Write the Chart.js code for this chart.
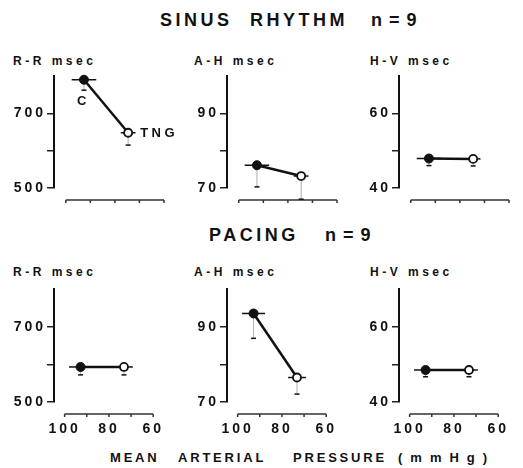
<!DOCTYPE html>
<html><head><meta charset="utf-8">
<script src="https://cdn.jsdelivr.net/npm/chart.js@4/dist/chart.umd.min.js"></script>
<style>
html,body{margin:0;padding:0;background:#fff;}
#wrap{position:relative;width:523px;height:468px;overflow:hidden;font-family:"Liberation Sans",Arial,sans-serif;font-weight:bold;color:#111;}
.t{position:absolute;white-space:nowrap;line-height:1;}
.big{font-size:18px;letter-spacing:3.5px;}
.nn{font-size:18px;letter-spacing:1px;}
.lab{font-size:12px;letter-spacing:3.5px;}
.xt{font-size:13px;letter-spacing:2.8px;}
canvas{position:absolute;}
</style></head><body><div id="wrap">
<div class="t big" style="left:160px;top:11px">SINUS</div>
<div class="t big" style="left:250px;top:11px">RHYTHM</div>
<div class="t nn" style="left:371px;top:11px">n = 9</div>
<div class="t big" style="left:209px;top:226px">PACING</div>
<div class="t nn" style="left:325px;top:226px">n = 9</div>
<div class="t lab" style="left:13px;top:55px">R-R msec</div>
<div class="t lab" style="left:194px;top:55px">A-H msec</div>
<div class="t lab" style="left:370px;top:55px">H-V msec</div>
<div class="t lab" style="left:13px;top:266px">R-R msec</div>
<div class="t lab" style="left:194px;top:266px">A-H msec</div>
<div class="t lab" style="left:370px;top:266px">H-V msec</div>
<div class="t xt" style="left:110px;top:451px">MEAN</div>
<div class="t xt" style="left:178px;top:451px">ARTERIAL</div>
<div class="t xt" style="left:293px;top:451px">PRESSURE</div>
<div class="t xt" style="left:398px;top:451px;letter-spacing:8px">(mmHg)</div>
</div>
<script>
// ---- data ----
const mapSinus = [92.6, 74.6];      // mean arterial pressure, C then TNG
const mapSinusErr = [5.0, 3.0];
const mapPacing = [92.8, 73.2];
const mapPacingErr = [5.2, 4.0];

const rrSinus = [790, 648];   const rrSinusErr = [28, 33];
const ahSinus = [76.1, 73.2]; const ahSinusErr = [5.8, 6.2];
const hvSinus = [47.9, 47.8]; const hvSinusErr = [1.9, 1.9];
const rrPacing = [593, 593];  const rrPacingErr = [21, 21];
const ahPacing = [93.5, 76.5]; const ahPacingErr = [6.6, 4.4];
const hvPacing = [48.5, 48.5]; const hvPacingErr = [1.8, 1.8];

const rrRange = [500, 800]; const rrTicks = [500, 600, 700]; const rrTickLabels = ['500', '', '700'];
const ahRange = [70, 100];  const ahTicks = [70, 80, 90];    const ahTickLabels = ['70', '', '90'];
const hvRange = [40, 70];   const hvTicks = [40, 50, 60];    const hvTickLabels = ['40', '', '60'];

const xRange = [60, 104.8];
const xTicks = [100, 80, 60]; const xTickLabels = ['100', '80', '60'];
const xMinorTicks = [90, 70];
const pointNames = ['C', 'TNG'];

// ---- layout ----
const YW = 48, PR = 16, PT = 12, CW = 110;
const panels = [
  {axisX: 54,  top: 76,  h: 112, xLabels: false, x: mapSinus, xErr: mapSinusErr, y: rrSinus, yErr: rrSinusErr, range: rrRange, ticks: rrTicks, tl: rrTickLabels, names: true},
  {axisX: 226.5, top: 76, h: 112, xLabels: false, x: mapSinus, xErr: mapSinusErr, y: ahSinus, yErr: ahSinusErr, range: ahRange, ticks: ahTicks, tl: ahTickLabels},
  {axisX: 399, top: 76,  h: 112, xLabels: false, x: mapSinus, xErr: mapSinusErr, y: hvSinus, yErr: hvSinusErr, range: hvRange, ticks: hvTicks, tl: hvTickLabels},
  {axisX: 53.5, top: 289, h: 113, xLabels: true, x: mapPacing, xErr: mapPacingErr, y: rrPacing, yErr: rrPacingErr, range: rrRange, ticks: rrTicks, tl: rrTickLabels},
  {axisX: 226.5, top: 289, h: 113, xLabels: true, x: mapPacing, xErr: mapPacingErr, y: ahPacing, yErr: ahPacingErr, range: ahRange, ticks: ahTicks, tl: ahTickLabels},
  {axisX: 398.5, top: 289, h: 113, xLabels: true, x: mapPacing, xErr: mapPacingErr, y: hvPacing, yErr: hvPacingErr, range: hvRange, ticks: hvTicks, tl: hvTickLabels}
];

const INK = '#111';
const tickFont = {family: 'Liberation Sans', size: 14, weight: 'bold'};

function makePlugin(p) {
  return {
    id: 'panelDeco',
    beforeDraw(chart) { chart.ctx.letterSpacing = '3px'; },
    beforeDatasetsDraw(chart) {
      const ctx = chart.ctx, xs = chart.scales.x, ys = chart.scales.y, ca = chart.chartArea;
      ctx.save();
      // detached x-axis line
      const ly = ca.bottom + 12;
      ctx.strokeStyle = '#333'; ctx.lineWidth = 1.5;
      ctx.beginPath();
      ctx.moveTo(xs.getPixelForValue(xTicks[0]), ly);
      ctx.lineTo(xs.getPixelForValue(xTicks[xTicks.length - 1]), ly);
      xTicks.concat(xMinorTicks).forEach(v => {
        const px = xs.getPixelForValue(v);
        ctx.moveTo(px, ly); ctx.lineTo(px, ly + 3);
      });
      ctx.stroke();
      // error bars
      for (let i = 0; i < p.x.length; i++) {
        const cx = xs.getPixelForValue(p.x[i]);
        const cy = ys.getPixelForValue(p.y[i]);
        ctx.strokeStyle = INK;
        ctx.lineWidth = 1.5;
        ctx.beginPath();
        ctx.moveTo(xs.getPixelForValue(p.x[i] + p.xErr[i]), cy);
        ctx.lineTo(xs.getPixelForValue(p.x[i] - p.xErr[i]), cy);
        ctx.stroke();
        const by = ys.getPixelForValue(p.y[i] - p.yErr[i]);
        ctx.strokeStyle = '#999';
        ctx.lineWidth = 0.8;
        ctx.beginPath(); ctx.moveTo(cx, cy); ctx.lineTo(cx, by); ctx.stroke();
        ctx.strokeStyle = INK;
        ctx.lineWidth = 1.5;
        ctx.beginPath(); ctx.moveTo(cx - 2.5, by); ctx.lineTo(cx + 2.5, by); ctx.stroke();
      }
      ctx.restore();
    },
    afterDatasetsDraw(chart) {
      if (!p.names) return;
      const ctx = chart.ctx, xs = chart.scales.x, ys = chart.scales.y;
      ctx.save();
      ctx.fillStyle = INK;
      ctx.font = 'bold 13px "Liberation Sans", Arial, sans-serif';
      ctx.letterSpacing = '3.5px';
      ctx.textBaseline = 'middle';
      const c0x = xs.getPixelForValue(p.x[0]), c0y = ys.getPixelForValue(p.y[0]);
      ctx.textAlign = 'center';
      ctx.fillText(pointNames[0], c0x - 0.5, c0y + 22);
      const c1x = xs.getPixelForValue(p.x[1]), c1y = ys.getPixelForValue(p.y[1]);
      ctx.textAlign = 'left';
      ctx.fillText(pointNames[1], c1x + 12, c1y + 1);
      ctx.restore();
    }
  };
}

panels.forEach(p => {
  const cv = document.createElement('canvas');
  const W = YW + CW + PR;
  const H = PT + p.h + (p.xLabels ? 40 : 20);
  cv.width = W; cv.height = H;
  cv.style.left = (p.axisX - YW) + 'px';
  cv.style.top = (p.top - PT) + 'px';
  cv.style.width = W + 'px'; cv.style.height = H + 'px';
  document.getElementById('wrap').appendChild(cv);
  new Chart(cv, {
    type: 'scatter',
    data: {datasets: [{
      data: p.x.map((v, i) => ({x: v, y: p.y[i]})),
      showLine: true,
      borderColor: INK,
      borderWidth: 2.5,
      pointRadius: [4.5, 4],
      pointBackgroundColor: [INK, '#fff'],
      pointBorderColor: INK,
      pointBorderWidth: [1, 1.8],
      clip: false
    }]},
    options: {
      responsive: false, animation: false, devicePixelRatio: 1, events: [],
      layout: {padding: {top: PT, right: PR, left: 0, bottom: 0}},
      plugins: {legend: {display: false}, tooltip: {enabled: false}},
      scales: {
        x: {
          type: 'linear', reverse: true, min: xRange[0], max: xRange[1],
          afterBuildTicks: s => { s.ticks = xTicks.map(v => ({value: v})); },
          afterFit: s => { s.height = p.xLabels ? 40 : 20; },
          ticks: {display: p.xLabels, padding: 19, maxRotation: 0, autoSkip: false, font: tickFont, color: INK,
                  callback: (v, i) => xTickLabels[i]},
          grid: {display: false, drawTicks: false},
          border: {display: false}
        },
        y: {
          type: 'linear', min: p.range[0], max: p.range[1],
          afterBuildTicks: s => { s.ticks = p.ticks.map(v => ({value: v})); },
          afterFit: s => { s.width = YW; },
          ticks: {padding: 1, autoSkip: false, font: tickFont, color: INK, callback: (v, i) => p.tl[i]},
          grid: {drawOnChartArea: false, drawTicks: true, tickLength: 7, color: '#222', lineWidth: 1.5},
          border: {display: true, color: INK, width: 2}
        }
      }
    },
    plugins: [makePlugin(p)]
  });
});
</script>
</body></html>
